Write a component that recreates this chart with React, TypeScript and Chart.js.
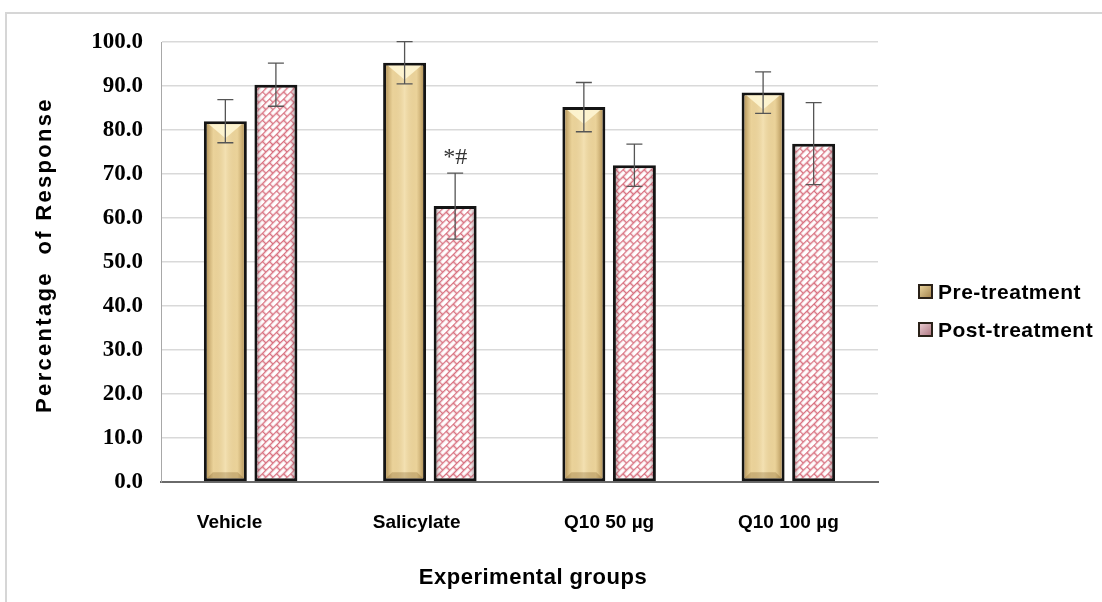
import React, { useEffect, useRef } from 'react';
import { Chart, registerables } from 'chart.js';

Chart.register(...registerables);

const categories = ['Vehicle', 'Salicylate', 'Q10 50 µg', 'Q10 100 µg'];
const seriesLabels = ['Pre-treatment', 'Post-treatment'];
const preValues = [82.0, 95.3, 85.2, 88.5];
const preErrors = [4.9, 4.8, 5.6, 4.7];
const postValues = [90.3, 62.7, 72.0, 76.9];
const postErrors = [4.9, 7.5, 4.8, 9.3];
const postMarks = ['', '*#', '', ''];
const yMin = 0;
const yMax = 100;
const yStep = 10;
const xTitle = 'Experimental groups';
const yTitle = 'Percentage  of Response';

// trailing spaces used only to nudge the first two tick labels left, as in the reference
const labelNudge = [8, 5, 0, 0];

function makeBrickPattern(): CanvasPattern | string {
  const c = document.createElement('canvas');
  c.width = 20;
  c.height = 10;
  const g = c.getContext('2d');
  if (!g) return '#f6d6dc';
  g.fillStyle = '#ffffff';
  g.fillRect(0, 0, 20, 10);
  g.strokeStyle = '#d8707f';
  g.lineWidth = 1.5;
  g.beginPath();
  g.moveTo(0, 0.5);
  g.lineTo(20, 0.5);
  g.moveTo(0, 5.5);
  g.lineTo(20, 5.5);
  g.moveTo(0.5, 0);
  g.lineTo(0.5, 5.5);
  g.moveTo(10.5, 0);
  g.lineTo(10.5, 5.5);
  g.moveTo(5.5, 5.5);
  g.lineTo(5.5, 10);
  g.moveTo(15.5, 5.5);
  g.lineTo(15.5, 10);
  g.stroke();
  const p = g.createPattern(c, 'repeat');
  if (!p) return '#f6d6dc';
  try {
    p.setTransform(new DOMMatrix().rotateSelf(-45));
  } catch (e) {
    /* ignore */
  }
  return p;
}

const effectsPlugin = {
  id: 'effects',
  afterDatasetsDraw(chart: any) {
    const { ctx } = chart;
    const yScale = chart.scales.y;
    const errs = [preErrors, postErrors];
    const vals = [preValues, postValues];
    chart.data.datasets.forEach((_ds: any, di: number) => {
      const meta = chart.getDatasetMeta(di);
      meta.data.forEach((bar: any, i: number) => {
        const { x, y, base, width } = bar.getProps(['x', 'y', 'base', 'width'], true);
        const bw = 3;
        const l = x - width / 2 + bw;
        const r = x + width / 2 - bw;
        const t = y + bw;
        const b = base - bw;
        ctx.save();
        const g = ctx.createLinearGradient(l, 0, r, 0);
        if (di === 0) {
          g.addColorStop(0, 'rgba(120,80,20,0.45)');
          g.addColorStop(0.18, 'rgba(150,110,40,0.05)');
          g.addColorStop(0.5, 'rgba(255,250,230,0.25)');
          g.addColorStop(0.82, 'rgba(150,110,40,0.05)');
          g.addColorStop(1, 'rgba(120,80,20,0.45)');
        } else {
          g.addColorStop(0, 'rgba(90,30,40,0.35)');
          g.addColorStop(0.15, 'rgba(255,255,255,0.0)');
          g.addColorStop(0.85, 'rgba(255,255,255,0.0)');
          g.addColorStop(1, 'rgba(90,30,40,0.35)');
        }
        ctx.fillStyle = g;
        ctx.fillRect(l, t, r - l, b - t);
        if (di === 0) {
          const bh = Math.min(14, (b - t) / 2);
          ctx.fillStyle = 'rgba(255,248,215,0.85)';
          ctx.beginPath();
          ctx.moveTo(l + 2, t);
          ctx.lineTo(r - 2, t);
          ctx.lineTo(x, t + bh);
          ctx.closePath();
          ctx.fill();
          ctx.fillStyle = 'rgba(110,75,20,0.25)';
          ctx.beginPath();
          ctx.moveTo(l, b);
          ctx.lineTo(r, b);
          ctx.lineTo(r - 6, b - 6);
          ctx.lineTo(l + 6, b - 6);
          ctx.closePath();
          ctx.fill();
        }
        ctx.restore();

        // error bars
        const v = vals[di][i];
        const e = errs[di][i];
        const yt = yScale.getPixelForValue(v + e);
        const yb = yScale.getPixelForValue(v - e);
        ctx.save();
        ctx.strokeStyle = '#555';
        ctx.lineWidth = 1.3;
        ctx.beginPath();
        ctx.moveTo(x, yt);
        ctx.lineTo(x, yb);
        ctx.moveTo(x - 8, yt);
        ctx.lineTo(x + 8, yt);
        ctx.moveTo(x - 8, yb);
        ctx.lineTo(x + 8, yb);
        ctx.stroke();
        ctx.restore();

        if (di === 1 && postMarks[i]) {
          ctx.save();
          ctx.fillStyle = '#333';
          ctx.font = '24px "Liberation Serif"';
          ctx.textAlign = 'center';
          ctx.textBaseline = 'bottom';
          ctx.fillText(postMarks[i], x, yt - 3);
          ctx.restore();
        }
      });
    });
  },
  afterDraw(chart: any) {
    const { ctx } = chart;
    // y-axis title
    ctx.save();
    ctx.translate(45, 255);
    ctx.rotate(-Math.PI / 2);
    ctx.fillStyle = '#000';
    ctx.font = 'bold 22px "Liberation Sans"';
    (ctx as any).letterSpacing = '2.3px';
    ctx.textAlign = 'center';
    ctx.textBaseline = 'middle';
    ctx.fillText(yTitle, 0, 0);
    ctx.restore();

    // x-axis title
    ctx.save();
    ctx.fillStyle = '#000';
    ctx.font = 'bold 22px "Liberation Sans"';
    (ctx as any).letterSpacing = '0.5px';
    ctx.textAlign = 'center';
    ctx.textBaseline = 'middle';
    ctx.fillText(xTitle, 533, 578);
    ctx.restore();

    const items = [
      { label: chart.data.datasets[0].label, y: 293, pre: true },
      { label: chart.data.datasets[1].label, y: 331, pre: false },
    ];
    items.forEach((it) => {
      const bx = 918;
      const by = it.y - 9;
      const s = 15;
      ctx.save();
      ctx.fillStyle = '#2a2118';
      ctx.fillRect(bx, by, s, s);
      const g = ctx.createLinearGradient(bx, by, bx + s, by + s);
      if (it.pre) {
        g.addColorStop(0, '#f3dfa8');
        g.addColorStop(1, '#9c7a44');
      } else {
        g.addColorStop(0, '#f1d7dc');
        g.addColorStop(1, '#a86d78');
      }
      ctx.fillStyle = g;
      ctx.fillRect(bx + 2, by + 2, s - 4, s - 4);
      ctx.fillStyle = '#000';
      ctx.font = 'bold 21px "Liberation Sans"';
      (ctx as any).letterSpacing = '0.5px';
      ctx.textAlign = 'left';
      ctx.textBaseline = 'middle';
      ctx.fillText(it.label, bx + s + 5, it.y);
      ctx.restore();
    });
  },
};

export default function App() {
  const canvasRef = useRef<HTMLCanvasElement | null>(null);

  useEffect(() => {
    const canvas = canvasRef.current;
    if (!canvas) return;
    const pattern = makeBrickPattern();
    const chart = new Chart(canvas, {
      type: 'bar',
      data: {
        labels: categories,
        datasets: [
          {
            label: seriesLabels[0],
            data: preValues,
            backgroundColor: '#efd8a0',
            borderColor: '#141414',
            borderWidth: 3,
            borderSkipped: false,
            categoryPercentage: 0.564,
            barPercentage: 0.85,
          },
          {
            label: seriesLabels[1],
            data: postValues,
            backgroundColor: pattern as any,
            borderColor: '#141414',
            borderWidth: 3,
            borderSkipped: false,
            categoryPercentage: 0.564,
            barPercentage: 0.85,
          },
        ],
      },
      options: {
        responsive: false,
        animation: false,
        layout: { padding: { left: 0, top: 42, right: 224, bottom: 0 } },
        plugins: {
          legend: { display: false },
          tooltip: { enabled: false },
        },
        scales: {
          x: {
            grid: { display: false, drawTicks: false },
            border: { display: true, color: '#6a6a6a', width: 2 },
            ticks: {
              color: '#000',
              font: { family: '"Liberation Sans"', size: 19, weight: 'bold' },
              padding: 29,
              callback: (_v: any, i: number) => categories[i] + ' '.repeat(labelNudge[i] || 0),
            },
            title: { display: false },
            afterFit: (scale: any) => {
              scale.height = 120;
            },
          },
          y: {
            min: yMin,
            max: yMax,
            grid: { color: '#d9d9d9', lineWidth: 1.5, drawTicks: false },
            border: { display: true, color: '#a8a8a8', width: 1 },
            ticks: {
              stepSize: yStep,
              color: '#000',
              font: { family: '"Liberation Serif"', size: 23, weight: 'bold' },
              padding: 18,
              callback: (v: any) => Number(v).toFixed(1),
            },
            title: { display: false },
            afterFit: (scale: any) => {
              scale.width = 161;
            },
          },
        },
      },
      plugins: [effectsPlugin],
    });
    return () => {
      chart.destroy();
    };
  }, []);

  return (
    <div style={{ position: 'absolute', left: 0, top: 0, width: 1102, height: 602, background: '#fff', overflow: 'hidden' }}>
      <div
        style={{
          position: 'absolute',
          left: 5,
          top: 12,
          width: 1200,
          height: 700,
          borderLeft: '2px solid #d6d6d6',
          borderTop: '2px solid #d6d6d6',
        }}
      />
      <canvas ref={canvasRef} width={1102} height={602} style={{ position: 'absolute', left: 0, top: 0 }} />
    </div>
  );
}
